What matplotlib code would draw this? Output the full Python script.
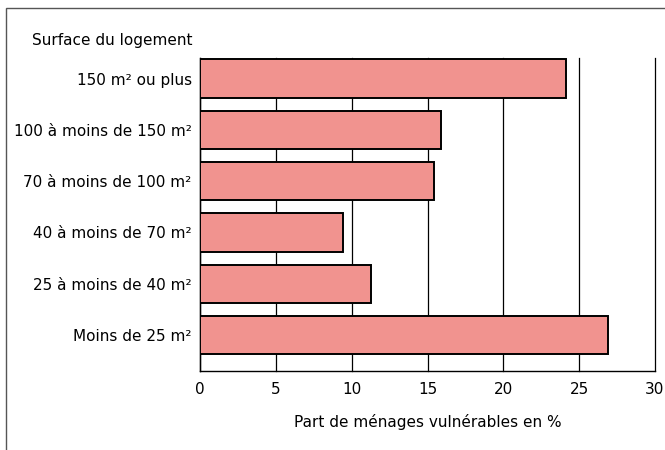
import matplotlib.pyplot as plt
from matplotlib.patches import Rectangle

# data, top to bottom as in the picture
categories = ['150 m² ou plus', '100 à moins de 150 m²', '70 à moins de 100 m²',
              '40 à moins de 70 m²', '25 à moins de 40 m²', 'Moins de 25 m²']
values = [24.1, 15.9, 15.4, 9.4, 11.3, 26.9]
xticks = [0, 5, 10, 15, 20, 25, 30]

plt.rcParams['font.family'] = ['DejaVu Sans']
plt.rcParams['font.size'] = 11

fig = plt.figure(figsize=(6.65, 4.5), dpi=100)
ax = fig.add_axes([200 / 665, 1 - 371 / 450, 455 / 665, 313 / 450])

pos = list(range(len(categories)))[::-1]
ax.barh(pos, values, height=0.75, color='#f1938f', edgecolor='black',
        linewidth=1.4, zorder=3)

ax.set_xlim(0, 30)
ax.set_ylim(-0.7, 5.4)
ax.set_xticks(xticks)
ax.set_yticks(pos)
ax.set_yticklabels(categories)
ax.tick_params(length=0)
ax.tick_params(axis='y', pad=6)
ax.tick_params(axis='x', pad=8)
ax.xaxis.grid(True, color='black', linewidth=0.9, zorder=0)
for gl in ax.get_xgridlines():
    gl.set_clip_on(False)
for s in ['top', 'right']:
    ax.spines[s].set_visible(False)
for s in ['left', 'bottom']:
    ax.spines[s].set_linewidth(1.0)
ax.set_xlabel('Part de ménages vulnérables en %', labelpad=12)

fig.text(192 / 665, 1 - 41 / 450, 'Surface du logement', va='center', ha='right')

# outer frame (left and top only visible)
fig.patches.append(Rectangle((6 / 665, -0.1), 1.2, 1 - 8 / 450 + 0.1,
                             transform=fig.transFigure, fill=False,
                             edgecolor='#555555', linewidth=1.0))

fig.savefig('out.png', dpi=100)
